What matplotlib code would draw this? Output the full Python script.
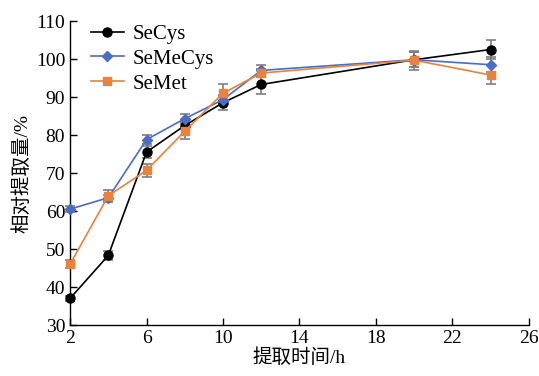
import matplotlib.pyplot as plt

plt.rcParams['font.family'] = ['Liberation Serif', 'Noto Sans CJK SC']

hours = [2, 4, 6, 8, 10, 12, 20, 24]

secys = [37.0, 48.3, 75.5, 82.5, 88.5, 93.3, 99.8, 102.5]
secys_err = [0.6, 1.2, 1.5, 1.0, 2.0, 2.5, 2.0, 2.5]

semecys = [60.5, 63.5, 78.8, 84.3, 89.3, 97.0, 99.8, 98.5]
semecys_err = [0.8, 0.8, 1.2, 1.2, 1.0, 1.5, 2.0, 2.0]

semet = [46.0, 64.0, 70.7, 81.0, 91.0, 96.3, 99.7, 95.8]
semet_err = [1.0, 1.5, 1.8, 2.0, 2.5, 1.0, 2.5, 2.5]

fig = plt.figure(figsize=(5.39, 3.76), dpi=100)
ax = fig.add_axes([0.13, 0.1356, 0.851, 0.8085])

series = [
    (secys, secys_err, 'black', 'o', 6.5, 'SeCys'),
    (semecys, semecys_err, '#4a6cc4', 'D', 5.5, 'SeMeCys'),
    (semet, semet_err, '#e8823c', 's', 6, 'SeMet'),
]
for vals, errs, col, mk, ms, name in series:
    # error bars first so the markers sit on top
    ax.errorbar(hours, vals, yerr=errs, fmt='none', ecolor='#7f7f7f',
                elinewidth=1.2, capsize=3.5, capthick=1.2, clip_on=False,
                zorder=2)
    ax.plot(hours, vals, color=col, marker=mk, markersize=ms, lw=1.2,
            label=name, clip_on=False, zorder=3)

ax.set_xlim(2, 26)
ax.set_ylim(30, 110)
ax.set_xticks(range(2, 27, 4))
ax.set_yticks(range(30, 111, 10))
ax.tick_params(direction='in', labelsize=14, length=5, width=1)
for side in ['top', 'right']:
    ax.spines[side].set_visible(False)
ax.spines['left'].set_linewidth(1)
ax.spines['bottom'].set_linewidth(1)

ax.set_xlabel('提取时间/h', fontsize=14, labelpad=1)
ax.set_ylabel('相对提取量/%', fontsize=14, labelpad=3)

ax.legend(loc='upper left', frameon=False, fontsize=15, handlelength=1.55,
          handletextpad=0.45, borderaxespad=0.2, labelspacing=0.25,
          bbox_to_anchor=(0.019, 1.03))

fig.savefig('out.png', dpi=100)
